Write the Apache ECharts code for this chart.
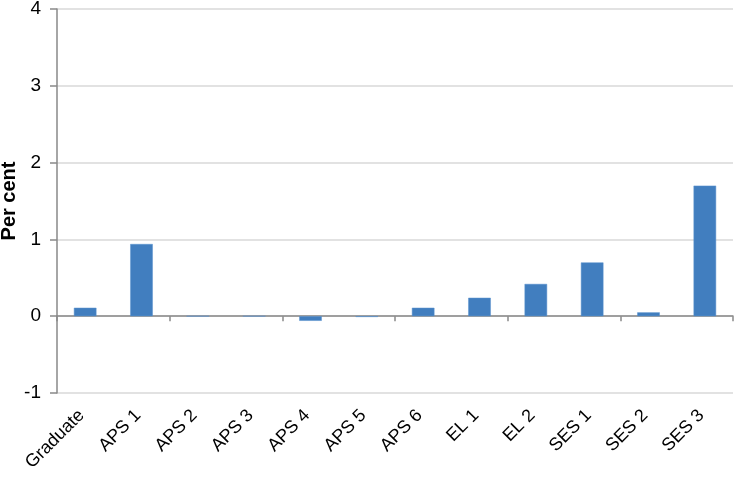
<!DOCTYPE html>
<html>
<head>
<meta charset="utf-8">
<script src="https://cdn.jsdelivr.net/npm/echarts@6/dist/echarts.min.js"></script>
<style>
  html, body { margin: 0; padding: 0; background: #fff; }
  #main { width: 734px; height: 477px; }
</style>
</head>
<body>
<div id="main"></div>
<script>
var categories = ['Graduate', 'APS 1', 'APS 2', 'APS 3', 'APS 4', 'APS 5', 'APS 6', 'EL 1', 'EL 2', 'SES 1', 'SES 2', 'SES 3'];
var percentValues = [0.11, 0.94, 0, 0, -0.06, -0.01, 0.11, 0.24, 0.42, 0.70, 0.05, 1.70];
var yMin = -1;
var yMax = 4;

var myChart = echarts.init(document.getElementById('main'));
var font = 'Liberation Sans, Arial, sans-serif';
var option = {
  backgroundColor: '#fff',
  animation: false,
  grid: { left: 57, right: 1, top: 9, bottom: 84, containLabel: false, outerBoundsMode: 'none' },
  xAxis: [{
    // labels along the bottom
    type: 'category',
    data: categories,
    position: 'bottom',
    axisLine: { show: false, onZero: false },
    axisTick: { show: false },
    axisLabel: {
      rotate: 45,
      margin: 16,
      padding: [0, 5, 0, 0],
      color: '#000',
      fontSize: 18,
      fontFamily: font,
      interval: 0
    }
  }, {
    // zero line with ticks
    type: 'category',
    data: categories,
    position: 'bottom',
    offset: 0,
    axisLine: { show: true, onZero: true, lineStyle: { color: '#898989', width: 1.5 } },
    axisTick: { show: true, length: 5, lineStyle: { color: '#898989', width: 1.5 } },
    axisLabel: { show: false }
  }],
  yAxis: {
    type: 'value',
    min: yMin,
    max: yMax,
    interval: 1,
    name: 'Per cent',
    nameLocation: 'middle',
    nameGap: 38,
    nameMoveOverlap: false,
    nameTextStyle: { color: '#000', fontSize: 20, fontWeight: 'bold', fontFamily: font },
    axisLine: { show: true, lineStyle: { color: '#898989', width: 1.5 } },
    axisTick: { show: true, length: 7, lineStyle: { color: '#898989', width: 1.5 } },
    axisLabel: { color: '#000', fontSize: 19, fontFamily: font, margin: 16 },
    splitLine: { show: true, lineStyle: { color: '#d9d9d9', width: 1.5 } }
  },
  series: [{
    name: 'Percent',
    type: 'bar',
    xAxisIndex: 0,
    data: percentValues,
    barWidth: '40%',
    itemStyle: { color: '#417ebf', borderColor: '#5b93cf', borderWidth: 0.5 }
  }]
};
myChart.setOption(option);
</script>
</body>
</html>
